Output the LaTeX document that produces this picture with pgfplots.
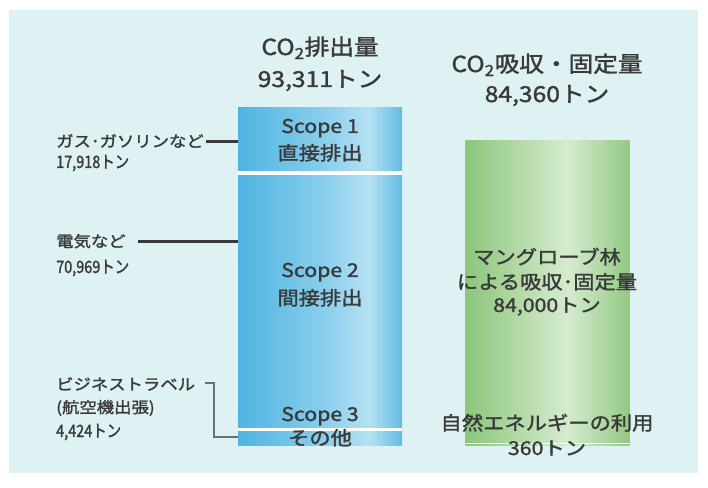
\documentclass[border=0pt]{standalone}
\usepackage{pgfplots}
\pgfplotsset{compat=1.18}
\usepackage{fontspec}
\setmainfont[FakeStretch=1.12, FakeBold=1.6]{Noto Sans CJK JP}
\newfontfamily\numfont[FakeStretch=0.85, FakeBold=1.6]{Noto Sans CJK JP}
\definecolor{panel}{RGB}{223,242,243}
\definecolor{txt}{RGB}{58,58,58}
\definecolor{lead}{RGB}{110,110,110}
\definecolor{bA}{RGB}{79,180,225}
\definecolor{bB}{RGB}{134,205,236}
\definecolor{bC}{RGB}{181,224,243}
\definecolor{bD}{RGB}{98,188,228}
\definecolor{gA}{RGB}{140,198,123}
\definecolor{gB}{RGB}{214,235,207}
\definecolor{gC}{RGB}{147,201,131}
\pgfdeclarehorizontalshading{blueshade}{100bp}{color(0bp)=(bA); color(25bp)=(bA); color(50bp)=(bB); color(65bp)=(bC); color(75bp)=(bD); color(100bp)=(bD)}
\pgfdeclarehorizontalshading{greenshade}{100bp}{color(0bp)=(gA); color(25bp)=(gA); color(56bp)=(gB); color(75bp)=(gC); color(100bp)=(gC)}
\pgfplotsset{base/.style={at={(0pt,0pt)}, anchor=south west, width=708pt, height=487pt, scale only axis, xmin=-1.40659, xmax=1.70549, ymin=-11629, ymax=123216, hide axis, clip=false}}
\tikzset{
  ttl/.style={anchor=base, text=txt, font=\fontsize{22}{22}\selectfont},
  inb/.style={anchor=base, text=txt, font=\fontsize{19}{19}\selectfont},
  ing/.style={anchor=base, text=txt, font=\fontsize{19}{19}\selectfont},
  side/.style={anchor=base west, text=txt, font=\fontsize{15.5}{15.5}\selectfont, inner sep=0pt},
  sidenum/.style={anchor=base west, text=txt, font=\numfont\fontsize{17}{17}\selectfont, inner sep=0pt},
}
\begin{document}
\begin{tikzpicture}
\fill[white] (0pt,0pt) rectangle (708pt,487pt);
\fill[panel] (9pt,14pt) rectangle (698pt,477pt);
% CO2 emissions (stacked, bottom to top: Scope 3, Scope 2, Scope 1)
\begin{axis}[base, ybar stacked, bar width=164pt]
\addplot[draw=none, shade, shading=blueshade] coordinates {(0,4424)};
\addplot[draw=none, shade, shading=blueshade] coordinates {(0,70969)};
\addplot[draw=none, shade, shading=blueshade] coordinates {(0,17918)};
\end{axis}
% CO2 absorption (stacked: renewable energy, mangrove)
\begin{axis}[base, ybar stacked, bar width=164pt]
\addplot[draw=none, shade, shading=greenshade] coordinates {(1,360)};
\addplot[draw=none, shade, shading=greenshade] coordinates {(1,84000)};
\end{axis}
% separators
\begin{axis}[base]
\addplot[white, line width=4pt] coordinates {(-0.3604,75393) (0.3604,75393)};
\addplot[white, line width=3pt] coordinates {(-0.3604,4424) (0.3604,4424)};
\addplot[white, line width=1pt] coordinates {(0.6396,360) (1.3604,360)};
\end{axis}
% titles
\node[ttl] at (320pt,432pt) {CO\textsubscript{2}排出量};
\node[ttl] at (320pt,400pt) {93,311トン};
\node[ttl] at (547pt,415pt) {CO\textsubscript{2}吸収・固定量};
\node[ttl] at (547pt,385pt) {84,360トン};
% in-bar labels
\node[inb] at (320pt,354pt) {Scope 1};
\node[inb] at (320pt,327pt) {直接排出};
\node[inb] at (320pt,210pt) {Scope 2};
\node[inb] at (320pt,182pt) {間接排出};
\node[inb] at (320pt,66pt) {Scope 3};
\node[inb] at (320pt,42pt) {その他};
\node[ing] at (547pt,223pt) {マングローブ林};
\node[ing] at (547pt,198pt) {による吸収･固定量};
\node[ing] at (547pt,175pt) {84,000トン};
\node[ing] at (547pt,57pt) {自然エネルギーの利用};
\node[ing] at (547pt,32pt) {360トン};
% side labels
\node[side] at (56pt,340pt) {ガス･ガソリンなど};
\node[sidenum] at (56pt,319pt) {17,918トン};
\node[side] at (56pt,240pt) {電気など};
\node[sidenum] at (56pt,214pt) {70,969トン};
\node[side] at (56pt,97pt) {ビジネストラベル};
\node[side] at (56pt,74pt) {(航空機出張)};
\node[sidenum] at (56pt,50pt) {4,424トン};
% leader lines
\draw[txt, line width=3pt] (206pt,345pt) -- (238pt,345pt);
\draw[txt, line width=3pt] (138pt,245pt) -- (238pt,245pt);
\draw[lead, line width=1.3pt] (205pt,104pt) -- (214pt,104pt) -- (214pt,50pt) -- (238pt,50pt);
\end{tikzpicture}
\end{document}
